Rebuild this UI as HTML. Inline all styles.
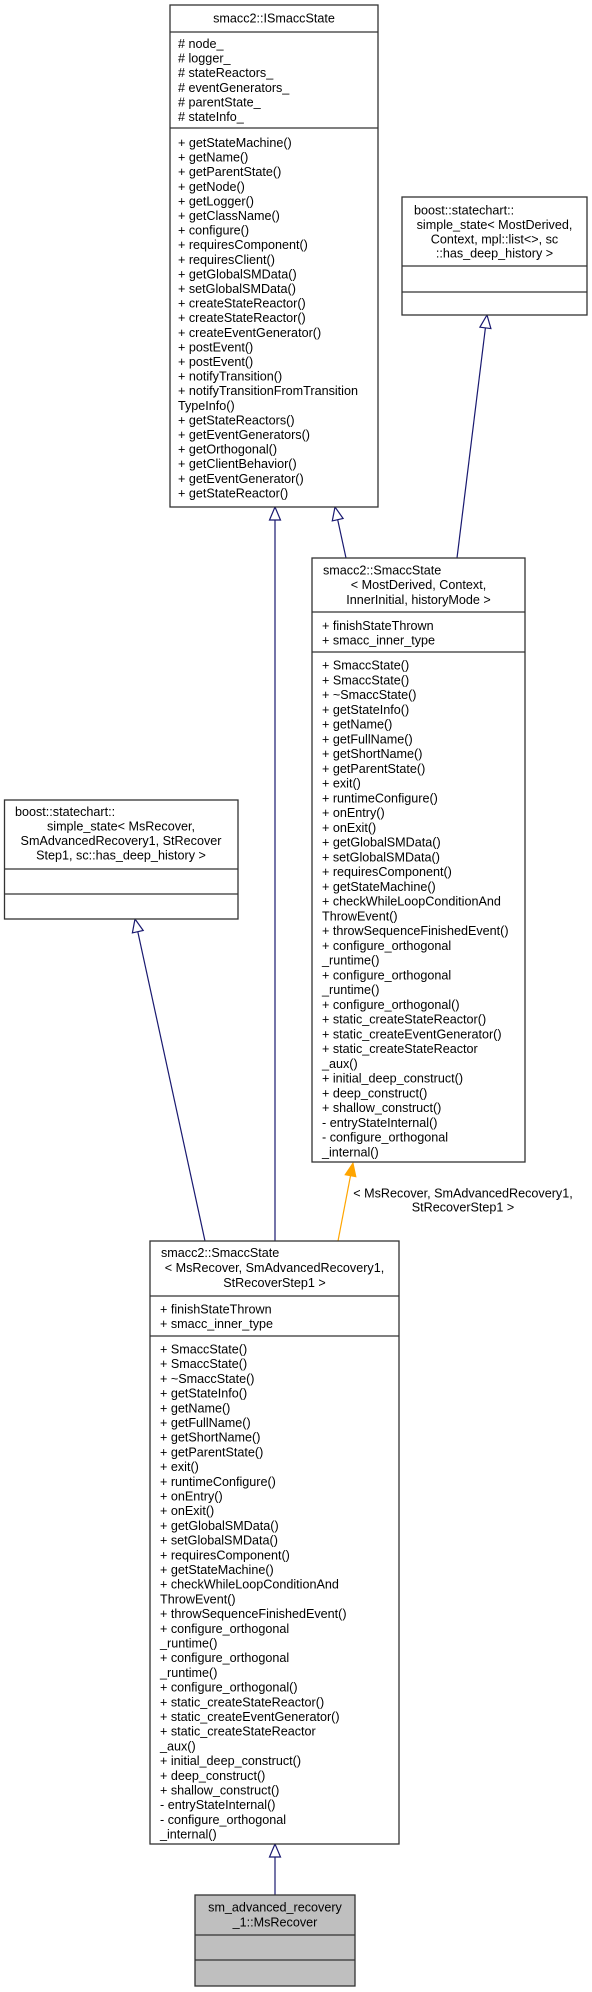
<!DOCTYPE html>
<html><head><meta charset="utf-8"><style>
html,body{margin:0;padding:0;background:#fff;}
svg{display:block;}
text{font-family:"Liberation Sans",Arial,sans-serif;font-size:12.6px;fill:#000;}
</style></head><body>
<svg width="592" height="1992" viewBox="0 0 592 1992" xmlns="http://www.w3.org/2000/svg">
<g fill="none" stroke="#191970" stroke-width="1.2">
<line x1="275" y1="520" x2="275" y2="1241"/>
<line x1="337.7" y1="519.7" x2="346" y2="558"/>
<line x1="485.4" y1="327.9" x2="457" y2="558"/>
<line x1="137.8" y1="931.7" x2="205" y2="1241"/>
<line x1="275" y1="1857" x2="275" y2="1895"/>
</g>
<g fill="#fff" stroke="#191970" stroke-width="1.2">
<polygon points="275,507 269.5,520 280.5,520"/>
<polygon points="335,507 343.1,518.5 332.3,520.9"/>
<polygon points="487,315 490.9,328.6 479.9,327.2"/>
<polygon points="135,919 143.2,930.5 132.4,932.9"/>
<polygon points="275,1844 269.5,1857 280.5,1857"/>
</g>
<line x1="350.5" y1="1175.8" x2="338" y2="1241" stroke="#ffa500" stroke-width="1.2"/>
<polygon points="353,1163 355.9,1176.8 345.1,1174.8" fill="#ffa500" stroke="#ffa500"/>
<text x="463" y="1197.5" text-anchor="middle">&lt; MsRecover, SmAdvancedRecovery1,</text>
<text x="463" y="1211.5" text-anchor="middle">StRecoverStep1 &gt;</text>

<g fill="#fff" stroke="#333" stroke-width="1.3">
<rect x="170" y="5" width="208" height="502"/>
<line x1="170" y1="32" x2="378" y2="32"/><line x1="170" y1="128" x2="378" y2="128"/>
<rect x="402" y="197" width="185" height="118"/>
<line x1="402" y1="266" x2="587" y2="266"/><line x1="402" y1="292" x2="587" y2="292"/>
<rect x="312" y="558" width="213" height="604"/>
<line x1="312" y1="612" x2="525" y2="612"/><line x1="312" y1="652" x2="525" y2="652"/>
<rect x="4.5" y="800" width="233.5" height="119"/>
<line x1="4.5" y1="869" x2="238" y2="869"/><line x1="4.5" y1="894" x2="238" y2="894"/>
<rect x="150" y="1241" width="249" height="603"/>
<line x1="150" y1="1296" x2="399" y2="1296"/><line x1="150" y1="1336" x2="399" y2="1336"/>
</g>
<g fill="#bfbfbf" stroke="#333" stroke-width="1.3">
<rect x="195" y="1895" width="160" height="91"/>
<line x1="195" y1="1935" x2="355" y2="1935"/><line x1="195" y1="1960" x2="355" y2="1960"/>
</g>

<text x="274" y="22.5" text-anchor="middle">smacc2::ISmaccState</text>
<text x="178" y="48"><tspan x="178"># node_</tspan><tspan x="178" dy="14.6"># logger_</tspan><tspan x="178" dy="14.6"># stateReactors_</tspan><tspan x="178" dy="14.6"># eventGenerators_</tspan><tspan x="178" dy="14.6"># parentState_</tspan><tspan x="178" dy="14.6"># stateInfo_</tspan></text>
<text x="178" y="147"><tspan x="178">+ getStateMachine()</tspan><tspan x="178" dy="14.6">+ getName()</tspan><tspan x="178" dy="14.6">+ getParentState()</tspan><tspan x="178" dy="14.6">+ getNode()</tspan><tspan x="178" dy="14.6">+ getLogger()</tspan><tspan x="178" dy="14.6">+ getClassName()</tspan><tspan x="178" dy="14.6">+ configure()</tspan><tspan x="178" dy="14.6">+ requiresComponent()</tspan><tspan x="178" dy="14.6">+ requiresClient()</tspan><tspan x="178" dy="14.6">+ getGlobalSMData()</tspan><tspan x="178" dy="14.6">+ setGlobalSMData()</tspan><tspan x="178" dy="14.6">+ createStateReactor()</tspan><tspan x="178" dy="14.6">+ createStateReactor()</tspan><tspan x="178" dy="14.6">+ createEventGenerator()</tspan><tspan x="178" dy="14.6">+ postEvent()</tspan><tspan x="178" dy="14.6">+ postEvent()</tspan><tspan x="178" dy="14.6">+ notifyTransition()</tspan><tspan x="178" dy="14.6">+ notifyTransitionFromTransition</tspan><tspan x="178" dy="14.6">TypeInfo()</tspan><tspan x="178" dy="14.6">+ getStateReactors()</tspan><tspan x="178" dy="14.6">+ getEventGenerators()</tspan><tspan x="178" dy="14.6">+ getOrthogonal()</tspan><tspan x="178" dy="14.6">+ getClientBehavior()</tspan><tspan x="178" dy="14.6">+ getEventGenerator()</tspan><tspan x="178" dy="14.6">+ getStateReactor()</tspan></text>

<text x="414" y="214.5">boost::statechart::</text>
<text x="494.5" y="228.9" text-anchor="middle">simple_state&lt; MostDerived,</text>
<text x="494.5" y="243.3" text-anchor="middle">Context, mpl::list&lt;&gt;, sc</text>
<text x="494.5" y="257.7" text-anchor="middle">::has_deep_history &gt;</text>

<text x="323" y="574.5">smacc2::SmaccState</text>
<text x="418.5" y="589.2" text-anchor="middle">&lt; MostDerived, Context,</text>
<text x="418.5" y="603.9" text-anchor="middle">InnerInitial, historyMode &gt;</text>
<text x="322" y="630"><tspan x="322">+ finishStateThrown</tspan><tspan x="322" dy="14.7">+ smacc_inner_type</tspan></text>
<text x="322" y="669.5"><tspan x="322">+ SmaccState()</tspan><tspan x="322" dy="14.75">+ SmaccState()</tspan><tspan x="322" dy="14.75">+ ~SmaccState()</tspan><tspan x="322" dy="14.75">+ getStateInfo()</tspan><tspan x="322" dy="14.75">+ getName()</tspan><tspan x="322" dy="14.75">+ getFullName()</tspan><tspan x="322" dy="14.75">+ getShortName()</tspan><tspan x="322" dy="14.75">+ getParentState()</tspan><tspan x="322" dy="14.75">+ exit()</tspan><tspan x="322" dy="14.75">+ runtimeConfigure()</tspan><tspan x="322" dy="14.75">+ onEntry()</tspan><tspan x="322" dy="14.75">+ onExit()</tspan><tspan x="322" dy="14.75">+ getGlobalSMData()</tspan><tspan x="322" dy="14.75">+ setGlobalSMData()</tspan><tspan x="322" dy="14.75">+ requiresComponent()</tspan><tspan x="322" dy="14.75">+ getStateMachine()</tspan><tspan x="322" dy="14.75">+ checkWhileLoopConditionAnd</tspan><tspan x="322" dy="14.75">ThrowEvent()</tspan><tspan x="322" dy="14.75">+ throwSequenceFinishedEvent()</tspan><tspan x="322" dy="14.75">+ configure_orthogonal</tspan><tspan x="322" dy="14.75">_runtime()</tspan><tspan x="322" dy="14.75">+ configure_orthogonal</tspan><tspan x="322" dy="14.75">_runtime()</tspan><tspan x="322" dy="14.75">+ configure_orthogonal()</tspan><tspan x="322" dy="14.75">+ static_createStateReactor()</tspan><tspan x="322" dy="14.75">+ static_createEventGenerator()</tspan><tspan x="322" dy="14.75">+ static_createStateReactor</tspan><tspan x="322" dy="14.75">_aux()</tspan><tspan x="322" dy="14.75">+ initial_deep_construct()</tspan><tspan x="322" dy="14.75">+ deep_construct()</tspan><tspan x="322" dy="14.75">+ shallow_construct()</tspan><tspan x="322" dy="14.75">- entryStateInternal()</tspan><tspan x="322" dy="14.75">- configure_orthogonal</tspan><tspan x="322" dy="14.75">_internal()</tspan></text>

<text x="15" y="816">boost::statechart::</text>
<text x="121" y="830.5" text-anchor="middle">simple_state&lt; MsRecover,</text>
<text x="121" y="845" text-anchor="middle">SmAdvancedRecovery1, StRecover</text>
<text x="121" y="859.5" text-anchor="middle">Step1, sc::has_deep_history &gt;</text>

<text x="161" y="1257">smacc2::SmaccState</text>
<text x="274.5" y="1272" text-anchor="middle">&lt; MsRecover, SmAdvancedRecovery1,</text>
<text x="274.5" y="1287" text-anchor="middle">StRecoverStep1 &gt;</text>
<text x="160" y="1313.5"><tspan x="160">+ finishStateThrown</tspan><tspan x="160" dy="14.7">+ smacc_inner_type</tspan></text>
<text x="160" y="1353.5"><tspan x="160">+ SmaccState()</tspan><tspan x="160" dy="14.7">+ SmaccState()</tspan><tspan x="160" dy="14.7">+ ~SmaccState()</tspan><tspan x="160" dy="14.7">+ getStateInfo()</tspan><tspan x="160" dy="14.7">+ getName()</tspan><tspan x="160" dy="14.7">+ getFullName()</tspan><tspan x="160" dy="14.7">+ getShortName()</tspan><tspan x="160" dy="14.7">+ getParentState()</tspan><tspan x="160" dy="14.7">+ exit()</tspan><tspan x="160" dy="14.7">+ runtimeConfigure()</tspan><tspan x="160" dy="14.7">+ onEntry()</tspan><tspan x="160" dy="14.7">+ onExit()</tspan><tspan x="160" dy="14.7">+ getGlobalSMData()</tspan><tspan x="160" dy="14.7">+ setGlobalSMData()</tspan><tspan x="160" dy="14.7">+ requiresComponent()</tspan><tspan x="160" dy="14.7">+ getStateMachine()</tspan><tspan x="160" dy="14.7">+ checkWhileLoopConditionAnd</tspan><tspan x="160" dy="14.7">ThrowEvent()</tspan><tspan x="160" dy="14.7">+ throwSequenceFinishedEvent()</tspan><tspan x="160" dy="14.7">+ configure_orthogonal</tspan><tspan x="160" dy="14.7">_runtime()</tspan><tspan x="160" dy="14.7">+ configure_orthogonal</tspan><tspan x="160" dy="14.7">_runtime()</tspan><tspan x="160" dy="14.7">+ configure_orthogonal()</tspan><tspan x="160" dy="14.7">+ static_createStateReactor()</tspan><tspan x="160" dy="14.7">+ static_createEventGenerator()</tspan><tspan x="160" dy="14.7">+ static_createStateReactor</tspan><tspan x="160" dy="14.7">_aux()</tspan><tspan x="160" dy="14.7">+ initial_deep_construct()</tspan><tspan x="160" dy="14.7">+ deep_construct()</tspan><tspan x="160" dy="14.7">+ shallow_construct()</tspan><tspan x="160" dy="14.7">- entryStateInternal()</tspan><tspan x="160" dy="14.7">- configure_orthogonal</tspan><tspan x="160" dy="14.7">_internal()</tspan></text>

<text x="275" y="1911.5" text-anchor="middle">sm_advanced_recovery</text>
<text x="275" y="1926.5" text-anchor="middle">_1::MsRecover</text>
</svg>
</body></html>
